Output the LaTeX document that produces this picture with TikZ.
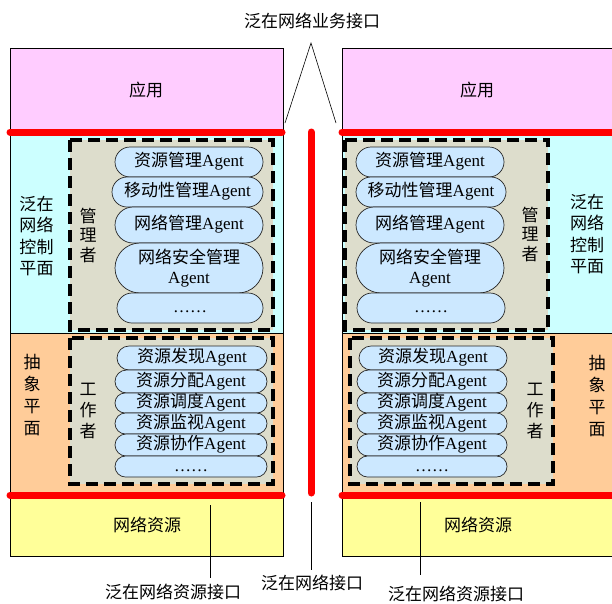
\documentclass[tikz,border=0pt]{standalone}
\usepackage{fontspec}
\setmainfont{Liberation Serif}
\newfontfamily\cjk{Noto Sans CJK SC}
\usetikzlibrary{shapes.misc}
\definecolor{appc}{HTML}{FFCCFF}
\definecolor{ctrlc}{HTML}{CCFFFF}
\definecolor{absc}{HTML}{FFCC99}
\definecolor{resc}{HTML}{FFFF99}
\definecolor{grpc}{HTML}{DDDDCC}
\definecolor{pillc}{HTML}{CCE8FF}
\begin{document}
\begin{tikzpicture}[x=1pt,y=-1pt,
  region/.style={draw=black, line width=0.8pt},
  grp/.style={draw=black, fill=grpc, line width=3.2pt, dash pattern=on 12pt off 6pt},
  pill/.style={rounded rectangle, draw=black!85, line width=0.7pt, fill=pillc, inner sep=0pt, align=center,
    font=\fontsize{17}{19.5}\selectfont},
  onel/.style={text height=12pt, text depth=3pt},
  vlbl/.style={font=\cjk\fontsize{17}{21.5}\selectfont, align=center, inner sep=0pt},
  plbl/.style={font=\cjk\fontsize{17}{20}\selectfont, inner sep=0pt},
  redl/.style={red, line width=7pt, line cap=round},
  conn/.style={draw=black, line width=0.6pt}
]
\useasboundingbox (0,0) rectangle (612,603);

% ---------- left column regions
\draw[region, fill=appc]  (10,48)  rectangle (283,132);
\draw[region, fill=ctrlc] (10,132) rectangle (283,333);
\draw[region, fill=absc]  (10,333) rectangle (283,495);
\draw[region, fill=resc]  (10,495) rectangle (283,556);
% ---------- right column regions
\draw[region, fill=appc]  (342,48)  rectangle (622,132);
\draw[region, fill=ctrlc] (342,132) rectangle (622,333);
\draw[region, fill=absc]  (342,333) rectangle (622,495);
\draw[region, fill=resc]  (342,495) rectangle (622,556);

% ---------- dashed groups
\draw[grp] (70,140) rectangle (273,330);
\draw[grp] (70,338) rectangle (273,484);
\draw[grp] (345,140) rectangle (548,330);
\draw[grp] (350,338) rectangle (553,484);

% ---------- left manager agents
\node[pill, onel, minimum width=148, minimum height=30] (m1L) at (189,162) {{\cjk 资源管理}Agent};
\node[pill, onel, minimum width=151, minimum height=30] (m2L) at (187.5,192) {{\cjk 移动性管理}Agent};
\node[pill, onel, minimum width=148, minimum height=36] (m3L) at (189,225) {{\cjk 网络管理}Agent};
\node[pill, minimum width=148, minimum height=50] (m4L) at (189,268) {{\cjk 网络安全管理}\\Agent};
\node[pill, onel, minimum width=146, minimum height=30] (m5L) at (190,308) {……};
% ---------- left worker agents
\node[pill, onel, minimum width=150, minimum height=24] (w1L) at (192,358) {{\cjk 资源发现}Agent};
\node[pill, onel, minimum width=152, minimum height=23] (w2L) at (191,381.5) {{\cjk 资源分配}Agent};
\node[pill, onel, minimum width=152, minimum height=20] (w3L) at (191,403) {{\cjk 资源调度}Agent};
\node[pill, onel, minimum width=152, minimum height=21] (w4L) at (191,423.5) {{\cjk 资源监视}Agent};
\node[pill, onel, minimum width=152, minimum height=22] (w5L) at (191,445) {{\cjk 资源协作}Agent};
\node[pill, onel, minimum width=152, minimum height=21] (w6L) at (191,466.5) {……};

% ---------- right manager agents
\node[pill, onel, minimum width=148, minimum height=30] (m1R) at (430,162) {{\cjk 资源管理}Agent};
\node[pill, onel, minimum width=150, minimum height=30] (m2R) at (431,192) {{\cjk 移动性管理}Agent};
\node[pill, onel, minimum width=148, minimum height=36] (m3R) at (430,225) {{\cjk 网络管理}Agent};
\node[pill, minimum width=148, minimum height=50] (m4R) at (430,268) {{\cjk 网络安全管理}\\Agent};
\node[pill, onel, minimum width=148, minimum height=30] (m5R) at (431,308) {……};
% ---------- right worker agents
\node[pill, onel, minimum width=148, minimum height=24] (w1R) at (433,358) {{\cjk 资源发现}Agent};
\node[pill, onel, minimum width=150, minimum height=23] (w2R) at (432,381.5) {{\cjk 资源分配}Agent};
\node[pill, onel, minimum width=150, minimum height=20] (w3R) at (432,403) {{\cjk 资源调度}Agent};
\node[pill, onel, minimum width=150, minimum height=21] (w4R) at (432,423.5) {{\cjk 资源监视}Agent};
\node[pill, onel, minimum width=150, minimum height=22] (w5R) at (432,445) {{\cjk 资源协作}Agent};
\node[pill, onel, minimum width=150, minimum height=21] (w6R) at (432,466.5) {……};

% ---------- vertical labels
\node[vlbl] (ctrlL) at (36.5,236) {泛在\\网络\\控制\\平面};
\node[vlbl, font=\cjk\fontsize{17}{19.5}\selectfont] (mgrL) at (88,235) {管\\理\\者};
\node[vlbl, font=\cjk\fontsize{17}{22}\selectfont] (absL) at (32,395) {抽\\象\\平\\面};
\node[vlbl, font=\cjk\fontsize{17}{21}\selectfont] (wrkL) at (88,411) {工\\作\\者};
\node[vlbl] (ctrlR) at (587,234) {泛在\\网络\\控制\\平面};
\node[vlbl, font=\cjk\fontsize{17}{19.5}\selectfont] (mgrR) at (530,234) {管\\理\\者};
\node[vlbl, font=\cjk\fontsize{17}{22}\selectfont] (absR) at (597,396) {抽\\象\\平\\面};
\node[vlbl, font=\cjk\fontsize{17}{21}\selectfont] (wrkR) at (535,411) {工\\作\\者};

% ---------- plain labels
\node[plbl] (appL) at (146,90) {应用};
\node[plbl] (appR) at (477,90) {应用};
\node[plbl] (resL) at (147,525) {网络资源};
\node[plbl] (resR) at (478,525) {网络资源};
\node[plbl] (title) at (312,21) {泛在网络业务接口};
\node[plbl] (bl1) at (173,592) {泛在网络资源接口};
\node[plbl] (bl2) at (312,583) {泛在网络接口};
\node[plbl] (bl3) at (456,594) {泛在网络资源接口};

% ---------- red interface lines
\coordinate (rtl1) at (10,132);  \coordinate (rtl2) at (282,132);
\coordinate (rtr1) at (342,132); \coordinate (rtr2) at (625,132);
\coordinate (rbl1) at (10,495);  \coordinate (rbl2) at (282,495);
\coordinate (rbr1) at (342,495); \coordinate (rbr2) at (625,495);
\coordinate (rvt) at (311,132);  \coordinate (rvb) at (311,493);
\draw[redl] (rtl1) -- (rtl2);
\draw[redl] (rtr1) -- (rtr2);
\draw[redl] (rbl1) -- (rbl2);
\draw[redl] (rbr1) -- (rbr2);
\draw[redl] (rvt) -- (rvb);

% ---------- callout lines
\coordinate (apex) at (311,43);
\coordinate (fl) at (285,123);
\coordinate (fr) at (336,123);
\draw[conn] (fl) -- (apex) -- (fr);
\coordinate (b1t) at (210,505); \coordinate (b1b) at (210,578);
\coordinate (b2t) at (311,502); \coordinate (b2b) at (311,570);
\coordinate (b3t) at (420,502); \coordinate (b3b) at (420,575);
\draw[conn] (b1t) -- (b1b);
\draw[conn] (b2t) -- (b2b);
\draw[conn] (b3t) -- (b3b);
\end{tikzpicture}
\end{document}
